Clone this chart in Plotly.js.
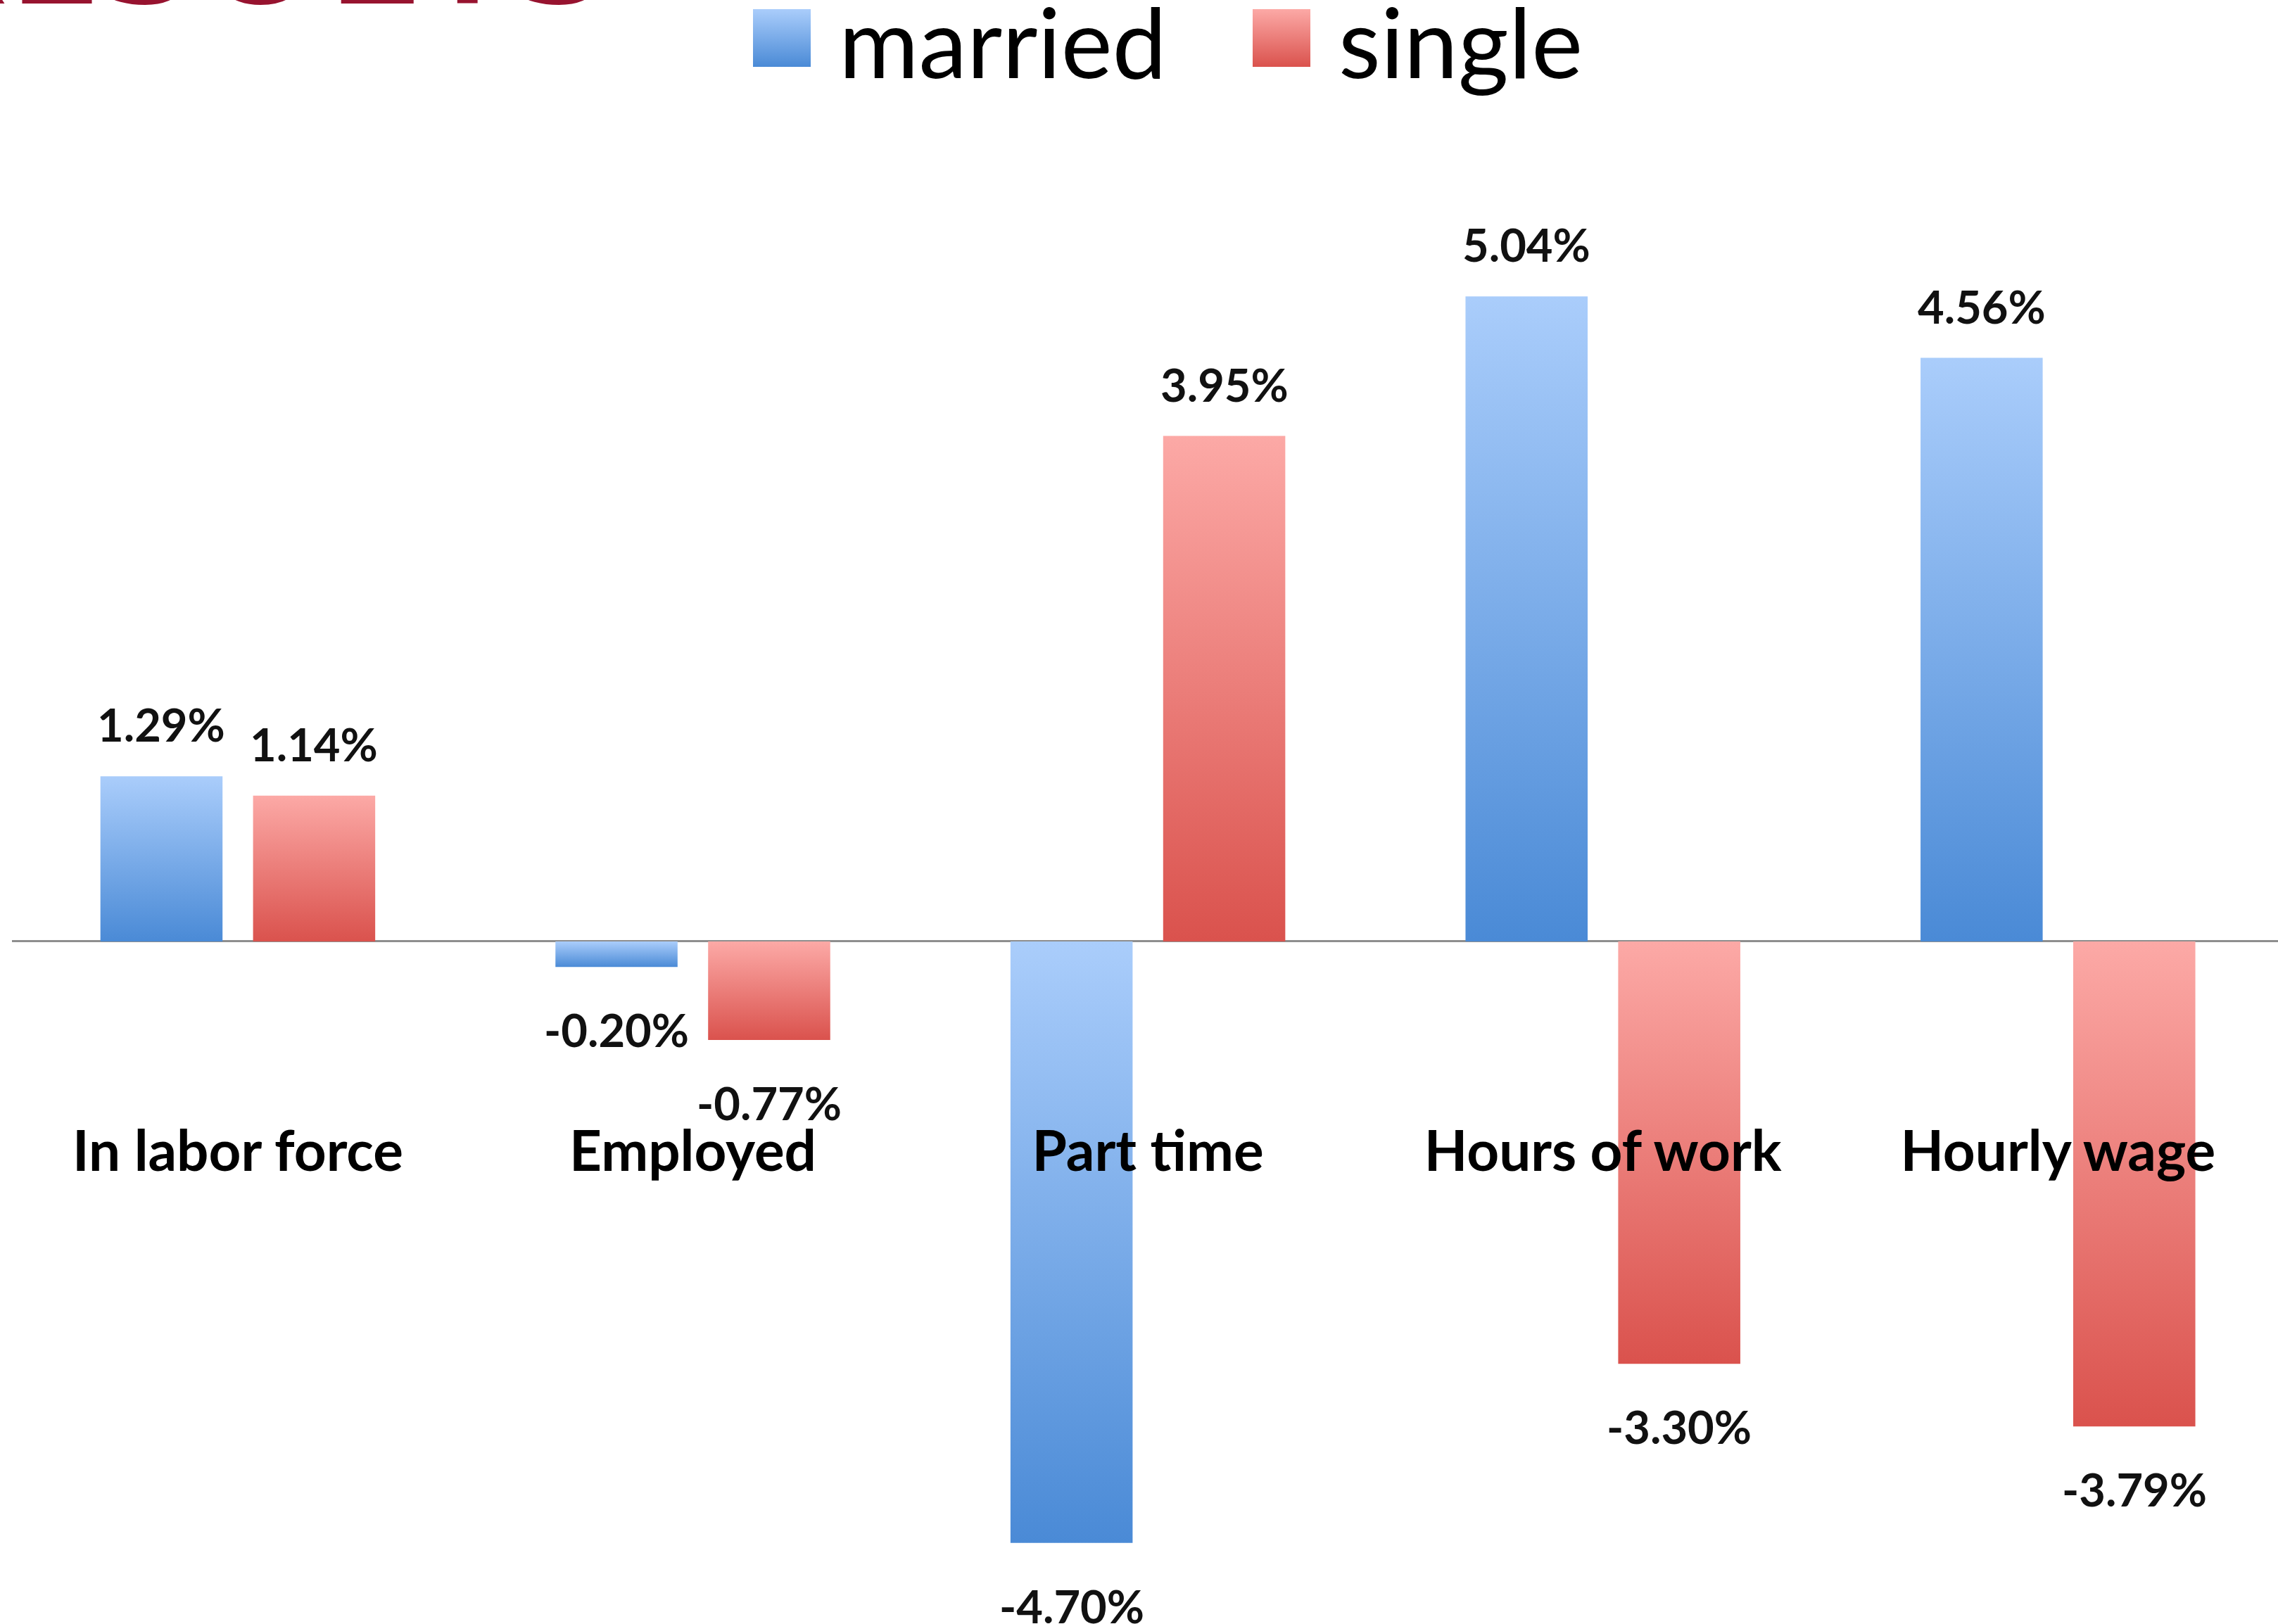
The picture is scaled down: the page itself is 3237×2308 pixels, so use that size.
<!DOCTYPE html>
<html>
<head>
<meta charset="utf-8">
<script src="https://cdn.plot.ly/plotly-3.0.1.min.js"></script>
<style>
html,body{margin:0;padding:0;background:#ffffff;overflow:hidden;}
#chart{width:3237px;height:2308px;}
</style>
</head>
<body>
<div id="chart"></div>
<script>
// ---- data ----
const categories = ['In labor force', 'Employed', 'Part time', 'Hours of work', 'Hourly wage'];
const seriesNames = ['married', 'single'];
const marriedValues = [1.29, -0.20, -4.70, 5.04, 4.56];
const singleValues = [1.14, -0.77, 3.95, -3.30, -3.79];
const heading = 'RESULTS';

// ---- layout constants ----
const W = 3237, H = 2308;
const ML = 17, MR = 0, MT = 0, MB = 0;
const BARGAP = 0.329, GROUPGAP = 0.2;
const FONT = 'Lato, "Open Sans", sans-serif';
const palette = [
  {id: 'grad-married', top: '#aacdfb', bottom: '#4a8ad6', mid: '#79aae8'},
  {id: 'grad-single', top: '#fca9a6', bottom: '#da524d', mid: '#ec7e7a'}
];
const seriesValues = [marriedValues, singleValues];

const px2x = px => (px - ML) / (W - ML - MR);
const py2y = py => 1 - (py - MT) / (H - MT - MB);

const traces = seriesNames.map((name, s) => ({
  type: 'bar',
  name: name,
  x: categories,
  y: seriesValues[s],
  marker: {color: palette[s].mid, line: {width: 0}},
  showlegend: false,
  hoverinfo: 'skip'
}));

// data labels derived from values
const off = (1 - BARGAP) / 4;
const annotations = [];
seriesValues.forEach((vals, s) => {
  vals.forEach((v, i) => {
    const pos = v >= 0;
    annotations.push({
      xref: 'x', yref: 'y',
      x: i + (s === 0 ? -off : off),
      y: v,
      text: v.toFixed(2) + '%',
      showarrow: false,
      xanchor: 'center',
      yanchor: pos ? 'bottom' : 'top',
      yshift: pos ? 33 : -48,
      font: {family: FONT, size: 65, color: '#111111', weight: 'bold'}
    });
  });
});

// custom legend (large squares like the original)
const LEG_SQ_X = 1070, LEG_STEP = 710, LEG_SQ = 82, LEG_SQ_Y = 13, LEG_TXT_DX = 120;
const shapes = [];
seriesNames.forEach((name, s) => {
  const x0 = LEG_SQ_X + s * LEG_STEP;
  shapes.push({
    type: 'rect', xref: 'paper', yref: 'paper',
    x0: px2x(x0), x1: px2x(x0 + LEG_SQ),
    y0: py2y(LEG_SQ_Y + LEG_SQ), y1: py2y(LEG_SQ_Y),
    fillcolor: palette[s].mid, line: {width: 0}
  });
  annotations.push({
    xref: 'paper', yref: 'paper',
    x: px2x(x0 + LEG_TXT_DX), y: py2y(142),
    xanchor: 'left', yanchor: 'bottom',
    text: name, showarrow: false,
    font: {family: FONT, size: 138, color: '#000000'}
  });
});

// clipped heading in the top-left corner
annotations.push({
  xref: 'paper', yref: 'paper',
  x: px2x(-150), y: py2y(79),
  xanchor: 'left', yanchor: 'bottom',
  text: heading, showarrow: false,
  font: {family: '"Open Sans", sans-serif', size: 245, color: '#97132f', weight: 600}
});

const layout = {
  width: W, height: H,
  margin: {l: ML, r: MR, t: MT, b: MB, pad: 0},
  paper_bgcolor: '#ffffff',
  plot_bgcolor: 'rgba(0,0,0,0)',
  barmode: 'group',
  bargap: BARGAP,
  bargroupgap: GROUPGAP,
  showlegend: false,
  font: {family: FONT, color: '#000000'},
  xaxis: {
    type: 'category',
    range: [-0.4963, 4.4836],
    anchor: 'free',
    position: py2y(1583),
    showline: false,
    ticks: '',
    showgrid: false,
    zeroline: false,
    tickfont: {family: FONT, size: 80, color: '#000000', weight: 'bold'},
    fixedrange: true
  },
  yaxis: {
    range: [-5.333, 7.356],
    showticklabels: false,
    ticks: '',
    showgrid: false,
    showline: false,
    zeroline: true,
    zerolinecolor: '#8e8e8e',
    zerolinewidth: 3,
    fixedrange: true
  },
  shapes: shapes,
  annotations: annotations
};

function applyGradients(gd) {
  const NS = 'http://www.w3.org/2000/svg';
  const defs = gd.querySelector('.main-svg defs');
  palette.forEach(c => {
    const lg = document.createElementNS(NS, 'linearGradient');
    lg.setAttribute('id', c.id);
    lg.setAttribute('x1', '0'); lg.setAttribute('y1', '0');
    lg.setAttribute('x2', '0'); lg.setAttribute('y2', '1');
    [['0', c.top], ['1', c.bottom]].forEach(([o, col]) => {
      const st = document.createElementNS(NS, 'stop');
      st.setAttribute('offset', o);
      st.setAttribute('stop-color', col);
      lg.appendChild(st);
    });
    defs.appendChild(lg);
  });
  gd.querySelectorAll('.barlayer .trace').forEach((t, i) => {
    t.querySelectorAll('path').forEach(p => { p.style.fill = 'url(#' + palette[i].id + ')'; });
  });
  gd.querySelectorAll('.shapelayer path').forEach(p => {
    const idx = +p.getAttribute('data-index');
    if (palette[idx]) p.style.fill = 'url(#' + palette[idx].id + ')';
  });
}

const gd = document.getElementById('chart');
Plotly.newPlot(gd, traces, layout, {displayModeBar: false, staticPlot: true}).then(applyGradients);
</script>
</body>
</html>
